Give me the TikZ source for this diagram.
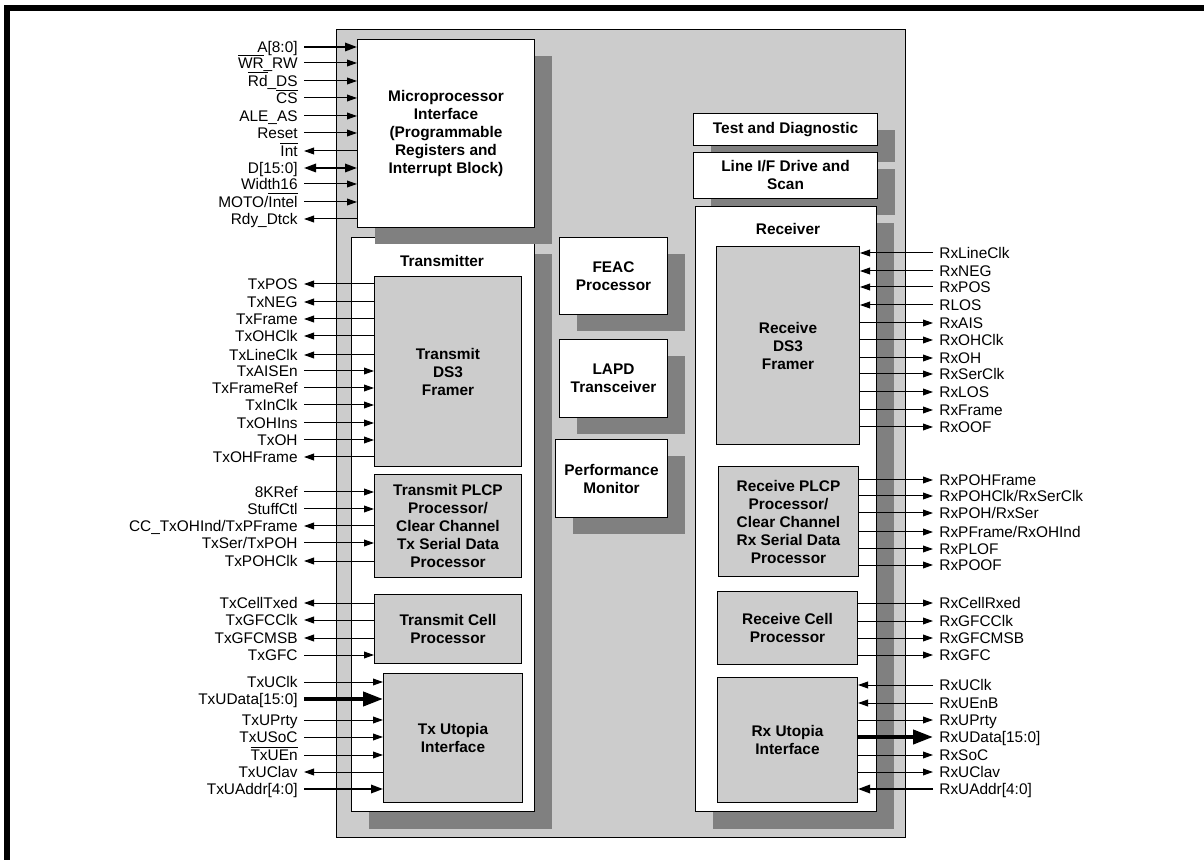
\documentclass[tikz,border=0pt]{standalone}
\usepackage{fontspec}
\setmainfont{Liberation Sans}
\usetikzlibrary{arrows.meta,shadows}
\definecolor{chipgray}{HTML}{CCCCCC}
\definecolor{shdgray}{HTML}{808080}
\newcommand{\barsig}[1]{$\overline{\hbox{#1}}$}

\begin{document}
\begin{tikzpicture}[x=0.5pt, y=-0.5pt,
  every node/.style={font=\fontsize{7.7}{9}\selectfont},
  blk/.style={draw, fill=white, line width=0.5pt, anchor=north west, inner sep=0pt, align=center, font=\fontsize{7.7}{9}\selectfont\bfseries},
  gblk/.style={blk, fill=chipgray},
  shd/.style={drop shadow={shadow xshift=8.5pt, shadow yshift=-8.5pt, fill=shdgray, opacity=1}},
  sigl/.style={anchor=east, inner xsep=3pt, inner ysep=0pt, text height=5.5pt, text depth=0pt},
  sigr/.style={sigl, anchor=west},
  sin/.style={-{Triangle[length=5pt,width=3.4pt]}, line width=0.5pt},
  sout/.style={{Triangle[length=5pt,width=3.4pt]}-, line width=0.5pt},
  busin/.style={-{Triangle[length=6pt,width=4.2pt]}, line width=1pt},
  busout/.style={{Triangle[length=6pt,width=4.2pt]}-, line width=1pt},
  busboth/.style={{Triangle[length=6pt,width=4.2pt]}-{Triangle[length=6pt,width=4.2pt]}, line width=1pt},
  widein/.style={-{Triangle[length=10pt,width=7pt]}, line width=2pt},
  wideout/.style={{Triangle[length=10pt,width=7pt]}-, line width=2pt}]
  \useasboundingbox (0,0) rectangle (1204,860);
  \draw[line width=3pt] (7,860) -- (7,8) -- (1204,8);

  % device outline
  \node[draw, fill=chipgray, anchor=north west, inner sep=0pt, minimum width=284.5pt, minimum height=404pt] (chip) at (336,29) {};

  % transmit side
  \node[blk, shd, minimum width=91.5pt, minimum height=287pt] (txsec) at (351,237) {};
  \node[blk, shd, minimum width=88.5pt, minimum height=94pt] (mpi) at (357,39) {Microprocessor\\Interface\\(Programmable\\Registers and\\Interrupt Block)};
  \node[font=\fontsize{7.7}{9}\selectfont\bfseries] (txlbl) at (442,261) {Transmitter};
  \node[gblk, minimum width=73.5pt, minimum height=95pt] (txdsf) at (374,276) {Transmit\\DS3\\Framer};
  \node[gblk, minimum width=73.5pt, minimum height=51.5pt] (txplcp) at (374,474) {Transmit PLCP\\Processor/\\Clear Channel\\Tx Serial Data\\Processor};
  \node[gblk, minimum width=73.5pt, minimum height=34.5pt] (txcell) at (374,594) {Transmit Cell\\Processor};
  \node[gblk, minimum width=69.5pt, minimum height=64.5pt] (txutop) at (383,673) {Tx Utopia\\Interface};

  % shared blocks
  \node[blk, shd, minimum width=54pt, minimum height=38.5pt] (feac) at (559,237) {FEAC\\Processor};
  \node[blk, shd, minimum width=54pt, minimum height=39pt] (lapd) at (559,339) {LAPD\\Transceiver};
  \node[blk, shd, minimum width=56pt, minimum height=39pt] (pmon) at (555,439) {Performance\\Monitor};
  \node[blk, shd, minimum width=92pt, minimum height=16pt] (tdiag) at (693,113) {Test and Diagnostic};
  \node[blk, shd, minimum width=92pt, minimum height=23pt] (lineif) at (693,152) {Line I/F Drive and\\Scan};

  % receive side
  \node[blk, shd, minimum width=90.5pt, minimum height=302.5pt] (rxsec) at (695,206) {};
  \node[font=\fontsize{7.7}{9}\selectfont\bfseries] (rxlbl) at (788,229) {Receiver};
  \node[gblk, minimum width=71.5pt, minimum height=99pt] (rxdsf) at (716,246) {Receive\\DS3\\Framer};
  \node[gblk, minimum width=70pt, minimum height=55pt] (rxplcp) at (718,466) {Receive PLCP\\Processor/\\Clear Channel\\Rx Serial Data\\Processor};
  \node[gblk, minimum width=70pt, minimum height=36.5pt] (rxcell) at (717,591) {Receive Cell\\Processor};
  \node[gblk, minimum width=70pt, minimum height=62.5pt] (rxutop) at (717,677) {Rx Utopia\\Interface};

  % microprocessor pins
  \node[sigl] (a8) at (304,47) {A[8:0]};
  \node[sigl] (wrrw) at (304,63) {\barsig{WR}\_RW};
  \node[sigl] (rdds) at (304,81) {\barsig{Rd}\_DS};
  \node[sigl] (cs) at (304,98) {\barsig{CS}};
  \node[sigl] (aleas) at (304,116) {ALE\_AS};
  \node[sigl] (reset) at (304,133) {Reset};
  \node[sigl] (intr) at (304,151) {\barsig{Int}};
  \node[sigl] (d15) at (304,168) {D[15:0]};
  \node[sigl] (width16) at (304,184) {Width16};
  \node[sigl] (moto) at (304,202) {MOTO/\barsig{Intel}};
  \node[sigl] (rdy) at (304,219) {Rdy\_Dtck};

  % transmit pins
  \node[sigl] (txpos) at (304,284) {TxPOS};
  \node[sigl] (txneg) at (304,302) {TxNEG};
  \node[sigl] (txframe) at (304,319) {TxFrame};
  \node[sigl] (txohclk) at (304,336) {TxOHClk};
  \node[sigl] (txlineclk) at (304,355) {TxLineClk};
  \node[sigl] (txaisen) at (304,371) {TxAISEn};
  \node[sigl] (txframeref) at (304,388) {TxFrameRef};
  \node[sigl] (txinclk) at (304,405) {TxInClk};
  \node[sigl] (txohins) at (304,423) {TxOHIns};
  \node[sigl] (txoh) at (304,440) {TxOH};
  \node[sigl] (txohframe) at (304,457) {TxOHFrame};
  \node[sigl] (kref) at (304,492) {8KRef};
  \node[sigl] (stuffctl) at (304,509) {StuffCtl};
  \node[sigl] (ccind) at (304,526) {CC\_TxOHInd/TxPFrame};
  \node[sigl] (txser) at (304,543) {TxSer/TxPOH};
  \node[sigl] (txpohclk) at (304,561) {TxPOHClk};
  \node[sigl] (txcelltxed) at (304,603) {TxCellTxed};
  \node[sigl] (txgfcclk) at (304,620) {TxGFCClk};
  \node[sigl] (txgfcmsb) at (304,638) {TxGFCMSB};
  \node[sigl] (txgfc) at (304,655) {TxGFC};
  \node[sigl] (txuclk) at (304,682) {TxUClk};
  \node[sigl] (txudata) at (304,699) {TxUData[15:0]};
  \node[sigl] (txuprty) at (304,720) {TxUPrty};
  \node[sigl] (txusoc) at (304,737) {TxUSoC};
  \node[sigl] (txuen) at (304,755) {\barsig{TxUEn}};
  \node[sigl] (txuclav) at (304,772) {TxUClav};
  \node[sigl] (txuaddr) at (304,789) {TxUAddr[4:0]};

  % receive pins
  \node[sigr] (rxlineclk) at (933,253) {RxLineClk};
  \node[sigr] (rxneg) at (933,271) {RxNEG};
  \node[sigr] (rxpos) at (933,287) {RxPOS};
  \node[sigr] (rlos) at (933,305) {RLOS};
  \node[sigr] (rxais) at (933,323) {RxAIS};
  \node[sigr] (rxohclk) at (933,340) {RxOHClk};
  \node[sigr] (rxoh) at (933,358) {RxOH};
  \node[sigr] (rxserclk) at (933,374) {RxSerClk};
  \node[sigr] (rxlos) at (933,392) {RxLOS};
  \node[sigr] (rxframe) at (933,410) {RxFrame};
  \node[sigr] (rxoof) at (933,427) {RxOOF};
  \node[sigr] (rxpohframe) at (933,480) {RxPOHFrame};
  \node[sigr] (rxpohclk) at (933,496) {RxPOHClk/RxSerClk};
  \node[sigr] (rxpoh) at (933,513) {RxPOH/RxSer};
  \node[sigr] (rxpframe) at (933,532) {RxPFrame/RxOHInd};
  \node[sigr] (rxplof) at (933,549) {RxPLOF};
  \node[sigr] (rxpoof) at (933,565) {RxPOOF};
  \node[sigr] (rxcellrxed) at (933,603) {RxCellRxed};
  \node[sigr] (rxgfcclk) at (933,621) {RxGFCClk};
  \node[sigr] (rxgfcmsb) at (933,638) {RxGFCMSB};
  \node[sigr] (rxgfc) at (933,655) {RxGFC};
  \node[sigr] (rxuclk) at (933,685) {RxUClk};
  \node[sigr] (rxuenb) at (933,703) {RxUEnB};
  \node[sigr] (rxuprty) at (933,720) {RxUPrty};
  \node[sigr] (rxudata) at (933,737) {RxUData[15:0]};
  \node[sigr] (rxsoc) at (933,755) {RxSoC};
  \node[sigr] (rxuclav) at (933,772) {RxUClav};
  \node[sigr] (rxuaddr) at (933,789) {RxUAddr[4:0]};

  \draw[busin] (a8) -- (a8 -| mpi.west);
  \draw[sin] (wrrw) -- (wrrw -| mpi.west);
  \draw[sin] (rdds) -- (rdds -| mpi.west);
  \draw[sin] (cs) -- (cs -| mpi.west);
  \draw[sin] (aleas) -- (aleas -| mpi.west);
  \draw[sin] (reset) -- (reset -| mpi.west);
  \draw[sout] (intr) -- (intr -| mpi.west);
  \draw[busboth] (d15) -- (d15 -| mpi.west);
  \draw[sin] (width16) -- (width16 -| mpi.west);
  \draw[sin] (moto) -- (moto -| mpi.west);
  \draw[sout] (rdy) -- (rdy -| mpi.west);

  \draw[sout] (txpos) -- (txpos -| txdsf.west);
  \draw[sout] (txneg) -- (txneg -| txdsf.west);
  \draw[sout] (txframe) -- (txframe -| txdsf.west);
  \draw[sout] (txohclk) -- (txohclk -| txdsf.west);
  \draw[sout] (txlineclk) -- (txlineclk -| txdsf.west);
  \draw[sin] (txaisen) -- (txaisen -| txdsf.west);
  \draw[sin] (txframeref) -- (txframeref -| txdsf.west);
  \draw[sin] (txinclk) -- (txinclk -| txdsf.west);
  \draw[sin] (txohins) -- (txohins -| txdsf.west);
  \draw[sin] (txoh) -- (txoh -| txdsf.west);
  \draw[sout] (txohframe) -- (txohframe -| txdsf.west);
  \draw[sin] (kref) -- (kref -| txplcp.west);
  \draw[sin] (stuffctl) -- (stuffctl -| txplcp.west);
  \draw[sout] (ccind) -- (ccind -| txplcp.west);
  \draw[sin] (txser) -- (txser -| txplcp.west);
  \draw[sout] (txpohclk) -- (txpohclk -| txplcp.west);
  \draw[sout] (txcelltxed) -- (txcelltxed -| txcell.west);
  \draw[sout] (txgfcclk) -- (txgfcclk -| txcell.west);
  \draw[sout] (txgfcmsb) -- (txgfcmsb -| txcell.west);
  \draw[sin] (txgfc) -- (txgfc -| txcell.west);
  \draw[sin] (txuclk) -- (txuclk -| txutop.west);
  \draw[widein] (txudata) -- (txudata -| txutop.west);
  \draw[sin] (txuprty) -- (txuprty -| txutop.west);
  \draw[sin] (txusoc) -- (txusoc -| txutop.west);
  \draw[sin] (txuen) -- (txuen -| txutop.west);
  \draw[sout] (txuclav) -- (txuclav -| txutop.west);
  \draw[busin] (txuaddr) -- (txuaddr -| txutop.west);

  \draw[sin] (rxlineclk) -- (rxlineclk -| rxdsf.east);
  \draw[sin] (rxneg) -- (rxneg -| rxdsf.east);
  \draw[sin] (rxpos) -- (rxpos -| rxdsf.east);
  \draw[sin] (rlos) -- (rlos -| rxdsf.east);
  \draw[sout] (rxais) -- (rxais -| rxdsf.east);
  \draw[sout] (rxohclk) -- (rxohclk -| rxdsf.east);
  \draw[sout] (rxoh) -- (rxoh -| rxdsf.east);
  \draw[sout] (rxserclk) -- (rxserclk -| rxdsf.east);
  \draw[sout] (rxlos) -- (rxlos -| rxdsf.east);
  \draw[sout] (rxframe) -- (rxframe -| rxdsf.east);
  \draw[sout] (rxoof) -- (rxoof -| rxdsf.east);
  \draw[sout] (rxpohframe) -- (rxpohframe -| rxplcp.east);
  \draw[sout] (rxpohclk) -- (rxpohclk -| rxplcp.east);
  \draw[sout] (rxpoh) -- (rxpoh -| rxplcp.east);
  \draw[sout] (rxpframe) -- (rxpframe -| rxplcp.east);
  \draw[sout] (rxplof) -- (rxplof -| rxplcp.east);
  \draw[sout] (rxpoof) -- (rxpoof -| rxplcp.east);
  \draw[sout] (rxcellrxed) -- (rxcellrxed -| rxcell.east);
  \draw[sout] (rxgfcclk) -- (rxgfcclk -| rxcell.east);
  \draw[sout] (rxgfcmsb) -- (rxgfcmsb -| rxcell.east);
  \draw[sout] (rxgfc) -- (rxgfc -| rxcell.east);
  \draw[sin] (rxuclk) -- (rxuclk -| rxutop.east);
  \draw[sin] (rxuenb) -- (rxuenb -| rxutop.east);
  \draw[sout] (rxuprty) -- (rxuprty -| rxutop.east);
  \draw[wideout] (rxudata) -- (rxudata -| rxutop.east);
  \draw[sout] (rxsoc) -- (rxsoc -| rxutop.east);
  \draw[sout] (rxuclav) -- (rxuclav -| rxutop.east);
  \draw[busin] (rxuaddr) -- (rxuaddr -| rxutop.east);
\end{tikzpicture}
\end{document}
